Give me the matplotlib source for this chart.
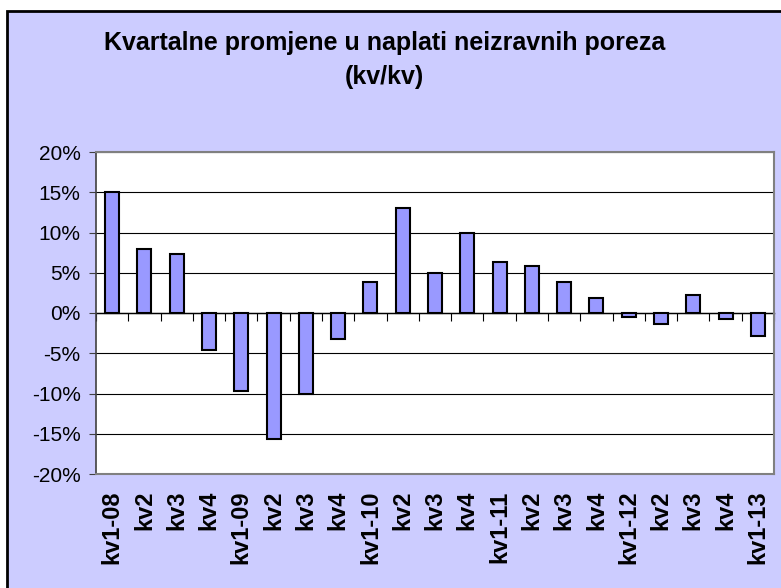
import matplotlib
matplotlib.use("Agg")
import matplotlib.pyplot as plt
from matplotlib.patches import Rectangle
from matplotlib.lines import Line2D
from matplotlib.ticker import PercentFormatter, MultipleLocator
import numpy as np

plt.rcParams['font.family'] = ['Liberation Sans', 'DejaVu Sans']
plt.rcParams['axes.unicode_minus'] = False

# quarterly change in indirect tax collection, %
quarters = ["kv1-08", "kv2", "kv3", "kv4",
            "kv1-09", "kv2", "kv3", "kv4",
            "kv1-10", "kv2", "kv3", "kv4",
            "kv1-11", "kv2", "kv3", "kv4",
            "kv1-12", "kv2", "kv3", "kv4",
            "kv1-13"]
changes = [15.0, 8.0, 7.3, -4.6,
           -9.7, -15.7, -10.1, -3.2,
           3.9, 13.0, 5.0, 10.0,
           6.3, 5.8, 3.9, 1.9,
           -0.5, -1.4, 2.2, -0.7,
           -2.9]

bg = '#CCCCFF'
bar_color = '#9999FF'

fig = plt.figure(figsize=(7.81, 5.88), dpi=100)
fig.patch.set_facecolor('white')

# chart area; black border only on top and left (the rest runs off the image)
left, top = 7 / 781, 1 - 11 / 588
fig.patches.append(Rectangle((left, 0), 1 - left, top, transform=fig.transFigure,
                             facecolor=bg, edgecolor='none', zorder=-10))
fig.lines.append(Line2D([left, left, 1], [0, top, top], transform=fig.transFigure,
                        color='black', lw=2, solid_joinstyle='miter'))

ax = fig.add_axes([96 / 781, 1 - 474 / 588, 678 / 781, 322 / 588])
ax.set_facecolor('white')

x = np.arange(len(quarters))
ax.bar(x, changes, width=0.43, color=bar_color, edgecolor='black',
       linewidth=1.5, zorder=3)

ax.set_xlim(-0.5, len(quarters) - 0.5)
ax.set_ylim(-20, 20)
ax.yaxis.set_major_locator(MultipleLocator(5))
ax.yaxis.set_major_formatter(PercentFormatter(decimals=0))
ax.yaxis.grid(True, color='black', lw=0.8)
ax.set_axisbelow(True)

ax.set_xticks(x)
ax.set_xticklabels(quarters, rotation=90, fontweight='bold', fontsize=17)
ax.tick_params(axis='x', length=0, pad=12)
ax.tick_params(axis='y', length=5, color='#404040', labelsize=15, pad=6)

for side in ['top', 'right', 'bottom']:
    ax.spines[side].set_color('#808080')
    ax.spines[side].set_linewidth(1.5)
ax.spines['left'].set_color('#404040')
ax.spines['left'].set_linewidth(1.2)

# zero line with category-boundary ticks
zero = ax.secondary_xaxis(0, transform=ax.transData)
zero.set_xticks(np.arange(len(quarters) + 1) - 0.5)
zero.tick_params(axis='x', direction='out', length=6, width=0.8,
                 color='black', labelbottom=False)
zero.spines['bottom'].set_color('black')
zero.spines['bottom'].set_linewidth(1.0)

fig.text(0.492, 0.898, "Kvartalne promjene u naplati neizravnih poreza\n(kv/kv)",
         ha='center', va='center', fontsize=18, fontweight='bold',
         linespacing=1.5)

fig.savefig("out.png", dpi=100, facecolor=fig.get_facecolor())
